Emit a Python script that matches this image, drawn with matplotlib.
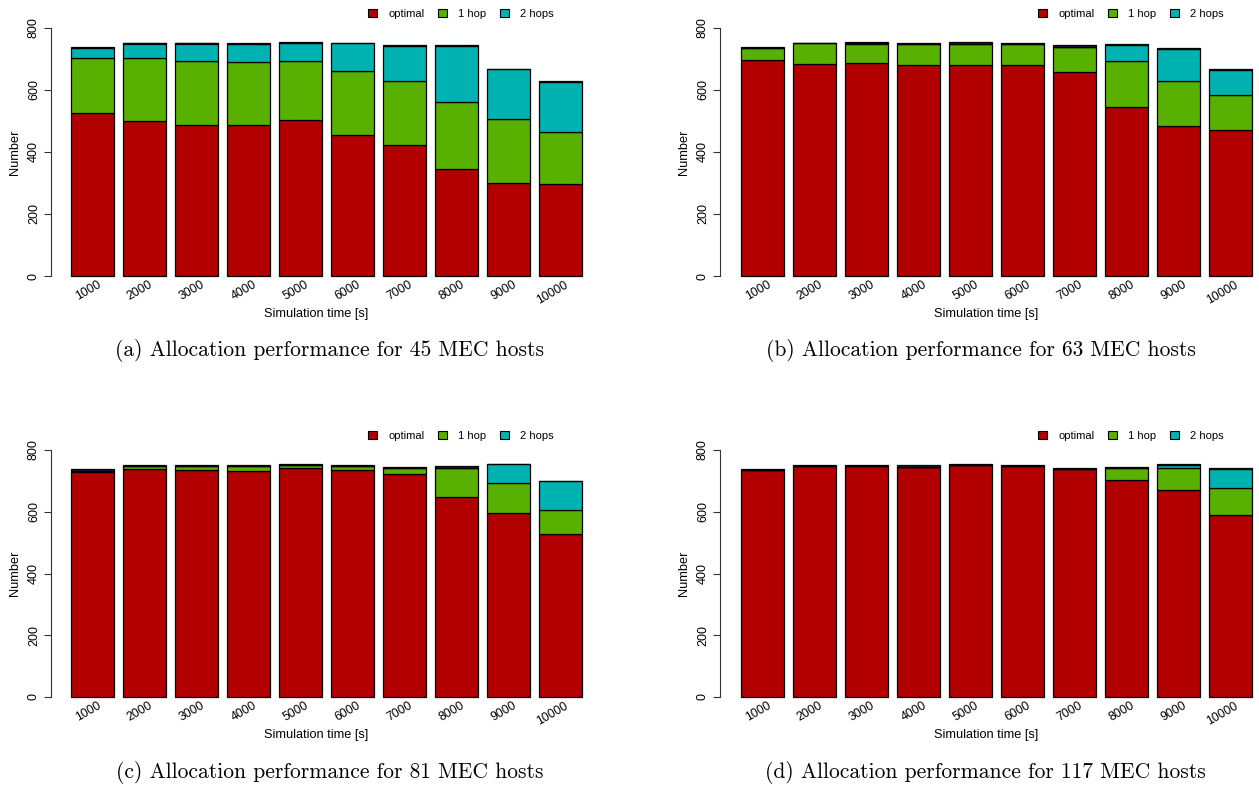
import numpy as np
import matplotlib
matplotlib.use('Agg')
import matplotlib.pyplot as plt

plt.rcParams['font.family'] = ['Liberation Sans', 'DejaVu Sans']

times = ['1000', '2000', '3000', '4000', '5000', '6000', '7000', '8000', '9000', '10000']
labels = ['optimal', '1 hop', '2 hops']
captions = ['(a) Allocation performance for 45 MEC hosts',
            '(b) Allocation performance for 63 MEC hosts',
            '(c) Allocation performance for 81 MEC hosts',
            '(d) Allocation performance for 117 MEC hosts']

# 45 MEC hosts
optA = [525, 499, 487, 488, 502, 454, 421, 346, 300, 297]
hop1A = [178, 204, 206, 202, 192, 208, 209, 216, 206, 167]
hop2A = [32, 47, 57, 59, 58, 89, 112, 180, 162, 163]
restA = [3, 1, 3, 3, 2, 1, 3, 3, 1, 2]
# 63 MEC hosts
optB = [697, 683, 688, 681, 680, 680, 659, 545, 484, 471]
hop1B = [37, 68, 62, 66, 70, 70, 79, 148, 146, 113]
hop2B = [1, 0, 2, 0, 0, 0, 0, 52, 102, 80]
restB = [3, 1, 2, 5, 4, 1, 8, 4, 3, 4]
# 81 MEC hosts
optC = [730, 737, 736, 732, 741, 736, 723, 649, 597, 529]
hop1C = [3, 10, 11, 16, 11, 12, 20, 94, 96, 77]
hop2C = [0, 0, 0, 0, 0, 0, 0, 0, 61, 94]
restC = [5, 6, 4, 4, 3, 5, 2, 4, 1, 1]
# 117 MEC hosts
optD = [736, 749, 749, 746, 753, 749, 739, 702, 672, 588]
hop1D = [0, 0, 0, 0, 0, 0, 0, 41, 71, 89]
hop2D = [0, 0, 0, 0, 0, 0, 0, 0, 10, 62]
restD = [3, 4, 4, 4, 3, 4, 4, 3, 3, 4]

colors = ['#b20000', '#58b000', '#00b2b2', '#22204a']

W, H = 1259, 787
fig = plt.figure(figsize=(W / 100, H / 100), dpi=100)


def rect(x0, x1, ytop, ybot):
    return [x0 / W, 1 - ybot / H, (x1 - x0) / W, (ybot - ytop) / H]


def panel(data, axisx, barl, barr, ytop, ybot, caption, capx, capy):
    ax = fig.add_axes(rect(axisx, barr, ytop, ybot))
    ppu = (barr - barl) / 11.8
    ax.set_xlim(0.2 - (barl - axisx) / ppu, 12)
    ax.set_ylim(0, 800)
    x = 0.7 + 1.2 * np.arange(len(times))
    bottom = np.zeros(len(times))
    for vals, col in zip(data, colors):
        vals = np.array(vals, dtype=float)
        ax.bar(x, vals, width=1.0, bottom=bottom, color=col, edgecolor='black',
               linewidth=0.9, clip_on=False)
        bottom += vals
    for s in ['top', 'right', 'bottom']:
        ax.spines[s].set_visible(False)
    ax.spines['left'].set_bounds(0, 800)
    ax.spines['left'].set_color('#333333')
    ax.set_yticks([0, 200, 400, 600, 800])
    ax.set_yticklabels(['0', '200', '400', '600', '800'], rotation=90, va='center', fontsize=9)
    ax.tick_params(axis='y', length=5, pad=3, color='#333333')
    ax.set_xticks(x + 0.1)
    ax.set_xticklabels(times, rotation=30, ha='right', va='top', rotation_mode='anchor', fontsize=8.7)
    ax.tick_params(axis='x', length=0, pad=2)
    ax.set_xlabel('Simulation time [s]', fontsize=9.2, labelpad=1)
    ax.set_ylabel('Number', fontsize=9.2, labelpad=5)
    handles = [plt.Rectangle((0, 0), 1, 1, facecolor=c, edgecolor='black', linewidth=0.8)
               for c in colors[:3]]
    leg = ax.legend(handles, labels, ncol=3, frameon=False, fontsize=8,
                    loc='center', handlelength=0.8, handleheight=0.8,
                    columnspacing=1.25, handletextpad=1.0)
    leg.set_bbox_to_anchor(((barl + 390) / W, 1 - 14 / H - (ytop - 28) / H),
                           transform=fig.transFigure)
    fig.text(capx / W, 1 - capy / H, caption, family='cmr10', fontsize=15.5,
             ha='center', va='center')
    return ax


panel([optA, hop1A, hop2A, restA], 51, 71, 582, 28, 276, captions[0], 330, 351)
panel([optB, hop1B, hop2B, restB], 720, 741, 1252, 28, 276, captions[1], 981, 351)
panel([optC, hop1C, hop2C, restC], 51, 71, 582, 450, 697, captions[2], 330, 773)
panel([optD, hop1D, hop2D, restD], 720, 741, 1252, 450, 697, captions[3], 985, 773)

fig.savefig('out.png', dpi=100)
